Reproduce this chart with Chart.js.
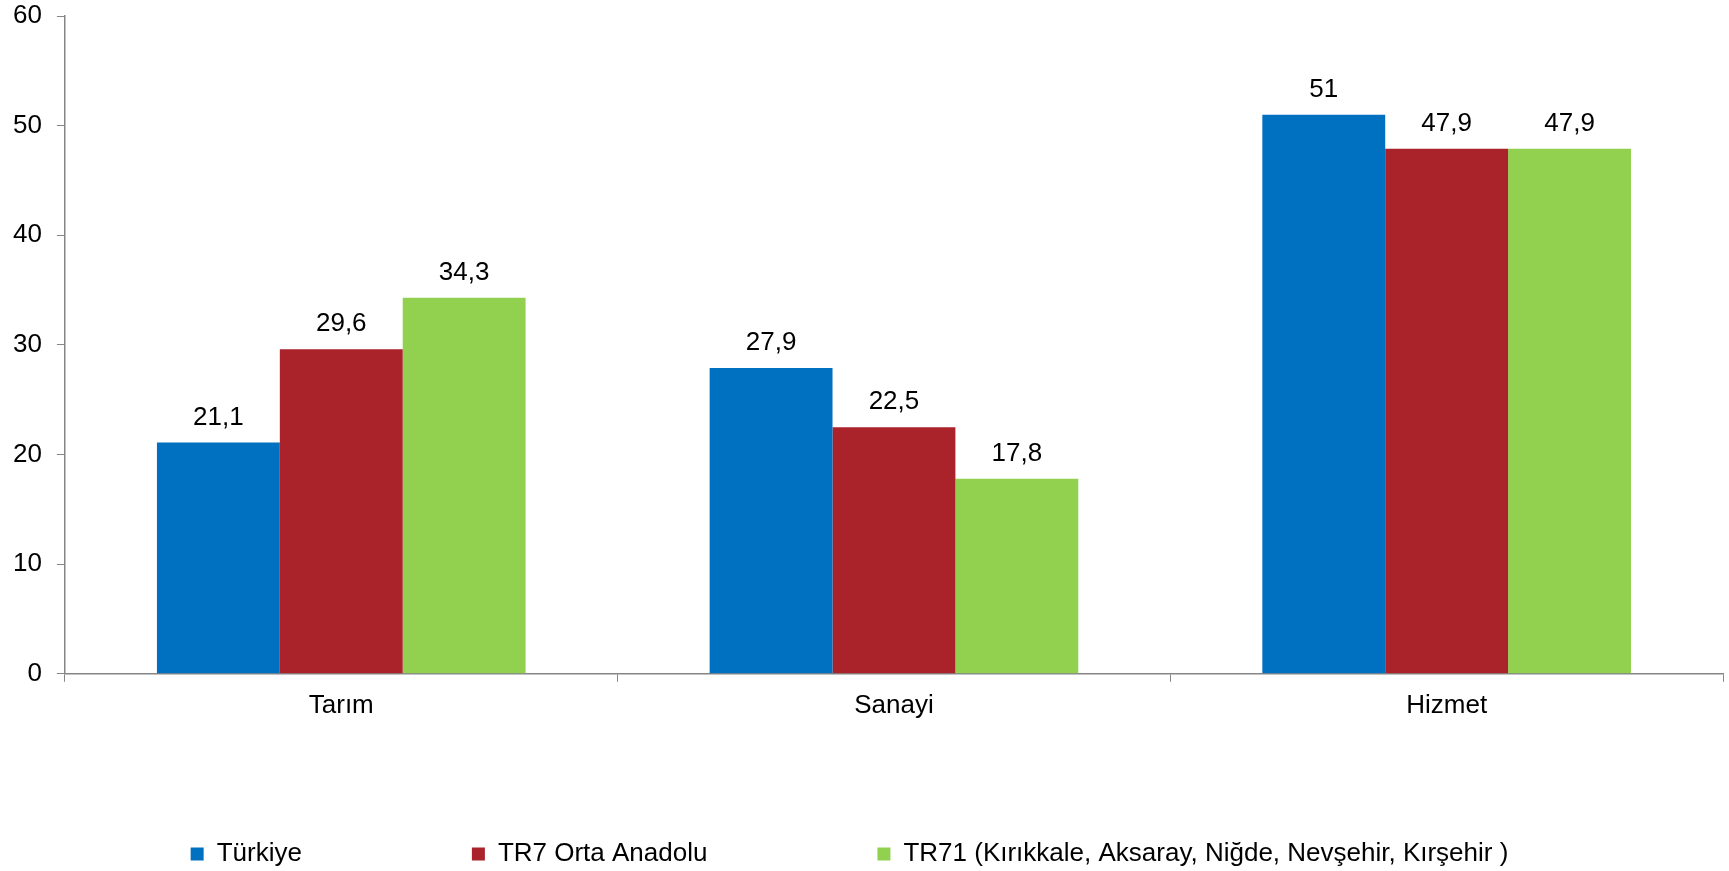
<!DOCTYPE html>
<html>
<head>
<meta charset="utf-8">
<script src="https://cdn.jsdelivr.net/npm/chart.js@4"></script>
<style>
  html, body { margin: 0; padding: 0; background: #fff; }
  #wrap { width: 1729px; height: 871px; }
</style>
</head>
<body>
<div id="wrap"><canvas id="myChart"></canvas></div>
<script>
const categories = ['Tarım', 'Sanayi', 'Hizmet'];
const seriesNames = ['Türkiye', 'TR7 Orta Anadolu', 'TR71 (Kırıkkale, Aksaray, Niğde, Nevşehir, Kırşehir )'];
const turkiye = [21.1, 27.9, 51];
const tr7 = [29.6, 22.5, 47.9];
const tr71 = [34.3, 17.8, 47.9];
const yTicks = [0, 10, 20, 30, 40, 50, 60];

const colors = ['#0070C0', '#AA222A', '#92D050'];
const axisGray = '#868686';
const fontSize = 26;
const font = { family: '"Liberation Sans", Arial, sans-serif', size: fontSize };
const legendGap = 170;

// values above bars, comma decimals like the original
const barLabels = {
  id: 'barLabels',
  afterDatasetsDraw(chart) {
    const ctx = chart.ctx;
    ctx.save();
    ctx.font = fontSize + 'px "Liberation Sans", Arial, sans-serif';
    ctx.fillStyle = '#000';
    ctx.textAlign = 'center';
    ctx.textBaseline = 'middle';
    chart.data.datasets.forEach((ds, i) => {
      chart.getDatasetMeta(i).data.forEach((bar, j) => {
        ctx.fillText(String(ds.data[j]).replace('.', ','), bar.x, bar.y - 25);
      });
    });
    ctx.restore();
  }
};

// the legend uses a wide item gap; its top padding is the same gap,
// so lift its box back up over the empty space under the axis labels
const legendLift = {
  id: 'legendLift',
  beforeDraw(chart) {
    const lg = chart.legend;
    lg.top = lg.bottom - (legendGap + fontSize + 4);
    lg.left = -15;
    lg.right = chart.width - 15;
  }
};

new Chart(document.getElementById('myChart'), {
  type: 'bar',
  data: {
    labels: categories,
    datasets: [
      { label: seriesNames[0], data: turkiye, backgroundColor: colors[0] },
      { label: seriesNames[1], data: tr7, backgroundColor: colors[1] },
      { label: seriesNames[2], data: tr71, backgroundColor: colors[2] }
    ]
  },
  options: {
    responsive: true,
    maintainAspectRatio: false,
    animation: false,
    layout: { padding: { left: -2, right: 6, top: 16, bottom: 0 } },
    datasets: { bar: { categoryPercentage: 0.667, barPercentage: 1 } },
    plugins: {
      tooltip: { enabled: false },
      legend: {
        position: 'bottom',
        maxHeight: 142,
        labels: {
          color: '#000',
          font: font,
          boxWidth: 13,
          boxHeight: 13,
          padding: legendGap
        }
      }
    },
    scales: {
      x: {
        grid: { offset: true, drawOnChartArea: false, drawTicks: true, tickLength: 8, color: axisGray },
        border: { color: axisGray, width: 1.5 },
        ticks: { color: '#000', font: font, padding: 8 }
      },
      y: {
        min: 0,
        max: 60,
        afterBuildTicks(scale) { scale.ticks = yTicks.map(v => ({ value: v })); },
        afterFit(scale) { scale.paddingTop = 0; scale.paddingBottom = 0; },
        grid: { drawOnChartArea: false, drawTicks: true, tickLength: 8, color: axisGray },
        border: { color: axisGray, width: 1.5 },
        ticks: { color: '#000', font: font, padding: 15 }
      }
    }
  },
  plugins: [barLabels, legendLift]
});
</script>
</body>
</html>
